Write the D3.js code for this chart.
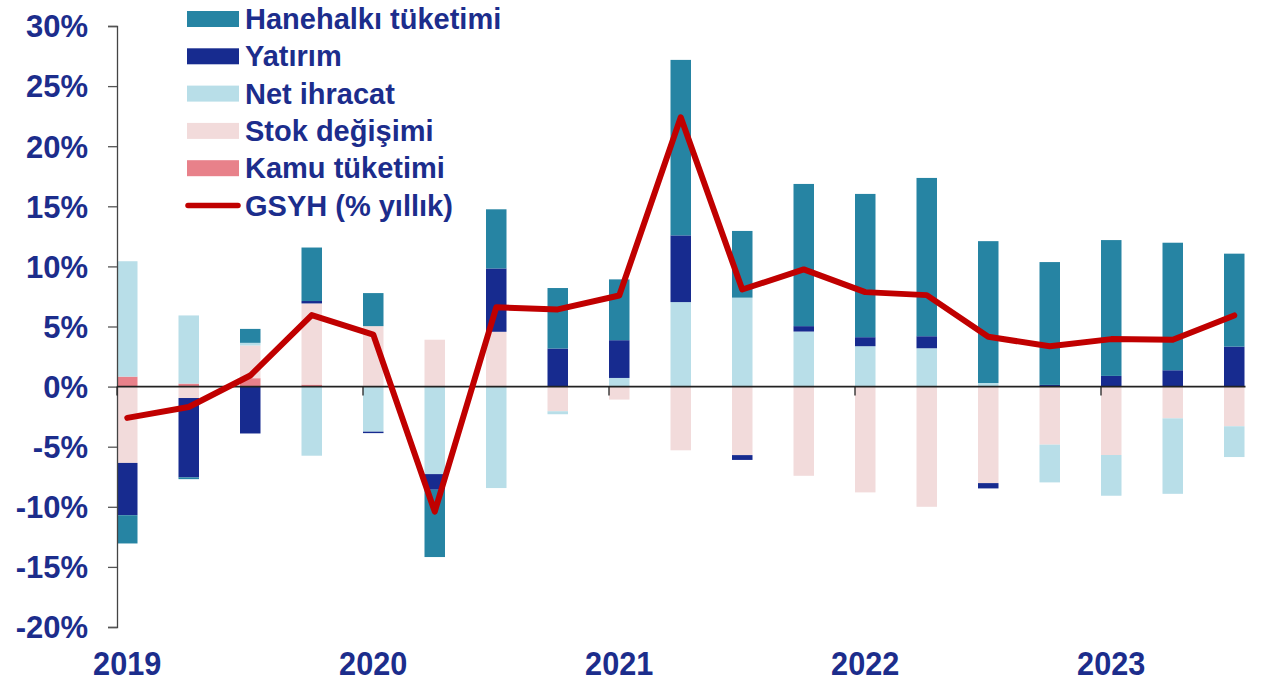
<!DOCTYPE html>
<html>
<head>
<meta charset="utf-8">
<script src="https://cdn.jsdelivr.net/npm/d3@7"></script>
<style>
  html, body { margin: 0; padding: 0; background: #ffffff; }
  svg { display: block; }
</style>
</head>
<body>
<svg id="chart" width="1268" height="682"></svg>
<script>
// ---- Data ----
const quarters = ["2019Q1","2019Q2","2019Q3","2019Q4","2020Q1","2020Q2","2020Q3","2020Q4",
                  "2021Q1","2021Q2","2021Q3","2021Q4","2022Q1","2022Q2","2022Q3","2022Q4",
                  "2023Q1","2023Q2","2023Q3"];
const yearLabels = ["2019","2020","2021","2022","2023"];
const hanehalki  = [-2.35,-0.15,1.16,4.45,2.75,-5.6,4.92,5.03,5.06,14.6,5.55,11.83,11.92,13.17,11.8,10.22,11.3,10.61,7.73];
const yatirim    = [-4.35,-6.6,-3.9,0.2,-0.12,-1.3,5.27,3.17,3.14,5.55,-0.4,0.45,0.75,1.0,-0.44,0.14,0.89,1.36,3.33];
const netIhracat = [9.6,5.67,0.22,-5.75,-3.75,-7.28,-8.44,-0.25,0.72,7.03,7.4,4.58,3.36,3.19,0.3,-3.14,-3.39,-6.28,-2.56];
const stok       = [-6.35,-0.95,2.72,6.75,5.03,3.9,4.56,-2.05,-1.08,-5.3,-5.7,-7.42,-8.8,-10.0,-8.03,-4.83,-5.69,-2.64,-3.3];
const kamu       = [0.83,0.25,0.7,0.17,0,0,0,0,0,0,0,0,0,0,0,0,0,0,0];
const gsyh       = [-2.6,-1.7,0.92,5.95,4.33,-10.4,6.6,6.42,7.58,22.4,8.08,9.75,7.86,7.61,4.14,3.36,3.95,3.9,5.92];
const yTicks     = [30,25,20,15,10,5,0,-5,-10,-15,-20];

const seriesNames = {
  hanehalki: "Hanehalkı tüketimi",
  yatirim: "Yatırım",
  netIhracat: "Net ihracat",
  stok: "Stok değişimi",
  kamu: "Kamu tüketimi",
  gsyh: "GSYH (% yıllık)"
};
const colors = {
  hanehalki: "#2684a3",
  yatirim: "#172b8f",
  netIhracat: "#b8dee8",
  stok: "#f2dbdb",
  kamu: "#e8818a",
  gsyh: "#c00000"
};
const textColor = "#1c2d8c";

// stack order from zero outward
const stackKeys = ["kamu","stok","netIhracat","yatirim","hanehalki"];
const seriesData = { hanehalki, yatirim, netIhracat, stok, kamu };
const table = quarters.map((q, i) => {
  const row = { q };
  stackKeys.forEach(k => row[k] = seriesData[k][i]);
  return row;
});

// ---- Layout ----
const svg = d3.select("#chart");
const axisX = 117;
const step = 61.5;
const x = d3.scaleBand().domain(quarters).range([axisX, axisX + step * quarters.length]).padding(0);
const barW = x.bandwidth() / 3;
const y = d3.scaleLinear().domain([-20, 30]).range([627, 26]);

const stacked = d3.stack().keys(stackKeys).offset(d3.stackOffsetDiverging)(table);

// Bars
const gBars = svg.append("g");
stacked.forEach(layer => {
  gBars.append("g")
    .attr("fill", colors[layer.key])
    .selectAll("rect")
    .data(layer)
    .join("rect")
    .attr("x", d => x(d.data.q))
    .attr("width", barW)
    .attr("y", d => y(Math.max(d[0], d[1])))
    .attr("height", d => Math.abs(y(d[0]) - y(d[1])));
});

// Y axis
const yAxis = d3.axisLeft(y).tickValues(yTicks).tickSize(9).tickFormat(d => d + "%");
const gy = svg.append("g").attr("transform", `translate(${axisX},0)`).call(yAxis);
gy.select(".domain").attr("stroke", "#444").attr("stroke-width", 1.3);
gy.selectAll(".tick line").attr("stroke", "#555").attr("stroke-width", 1.3);
gy.selectAll(".tick text")
  .attr("x", -29)
  .attr("dy", "0.35em")
  .attr("fill", textColor)
  .style("font-family", "'Liberation Sans', Arial, sans-serif")
  .style("font-weight", "bold")
  .style("font-size", "31px");

// Zero line + year ticks
const lastQ = quarters[quarters.length - 1];
const zeroEnd = x(lastQ) + barW + 1;
svg.append("line")
  .attr("x1", axisX).attr("x2", zeroEnd)
  .attr("y1", y(0)).attr("y2", y(0))
  .attr("stroke", "#222").attr("stroke-width", 1.6);

const yearStarts = quarters.filter(q => q.endsWith("Q1"));
svg.append("g").selectAll("line")
  .data(yearStarts)
  .join("line")
  .attr("x1", d => x(d)).attr("x2", d => x(d))
  .attr("y1", y(0)).attr("y2", y(0) + 9)
  .attr("stroke", "#222").attr("stroke-width", 1.3);

// Year labels
svg.append("g").selectAll("text")
  .data(yearStarts)
  .join("text")
  .attr("transform", d => `translate(${x(d) + barW / 2},675) scale(0.93,1)`)
  .attr("text-anchor", "middle")
  .attr("fill", textColor)
  .style("font-family", "'Liberation Sans', Arial, sans-serif")
  .style("font-weight", "bold")
  .style("font-size", "33px")
  .text((d, i) => yearLabels[i]);

// GSYH line
const line = d3.line()
  .x((d, i) => x(quarters[i]) + barW / 2)
  .y(d => y(d));
svg.append("path")
  .datum(gsyh)
  .attr("d", line)
  .attr("fill", "none")
  .attr("stroke", colors.gsyh)
  .attr("stroke-width", 6)
  .attr("stroke-linejoin", "round")
  .attr("stroke-linecap", "round");

// Legend
const legendKeys = ["hanehalki","yatirim","netIhracat","stok","kamu","gsyh"];
const legY0 = 19, legStep = 37.3;
const gLeg = svg.append("g");
legendKeys.forEach((k, i) => {
  const cy = legY0 + i * legStep;
  if (k === "gsyh") {
    gLeg.append("line")
      .attr("x1", 188).attr("x2", 238)
      .attr("y1", cy).attr("y2", cy)
      .attr("stroke", colors[k]).attr("stroke-width", 5.5)
      .attr("stroke-linecap", "round");
  } else {
    gLeg.append("rect")
      .attr("x", 187).attr("y", cy - 8)
      .attr("width", 52).attr("height", 16)
      .attr("fill", colors[k]);
  }
  gLeg.append("text")
    .attr("x", 245).attr("y", cy)
    .attr("dy", "0.35em")
    .attr("fill", textColor)
    .style("font-family", "'Liberation Sans', Arial, sans-serif")
    .style("font-weight", "bold")
    .style("font-size", "29px")
    .text(seriesNames[k]);
});
</script>
</body>
</html>
